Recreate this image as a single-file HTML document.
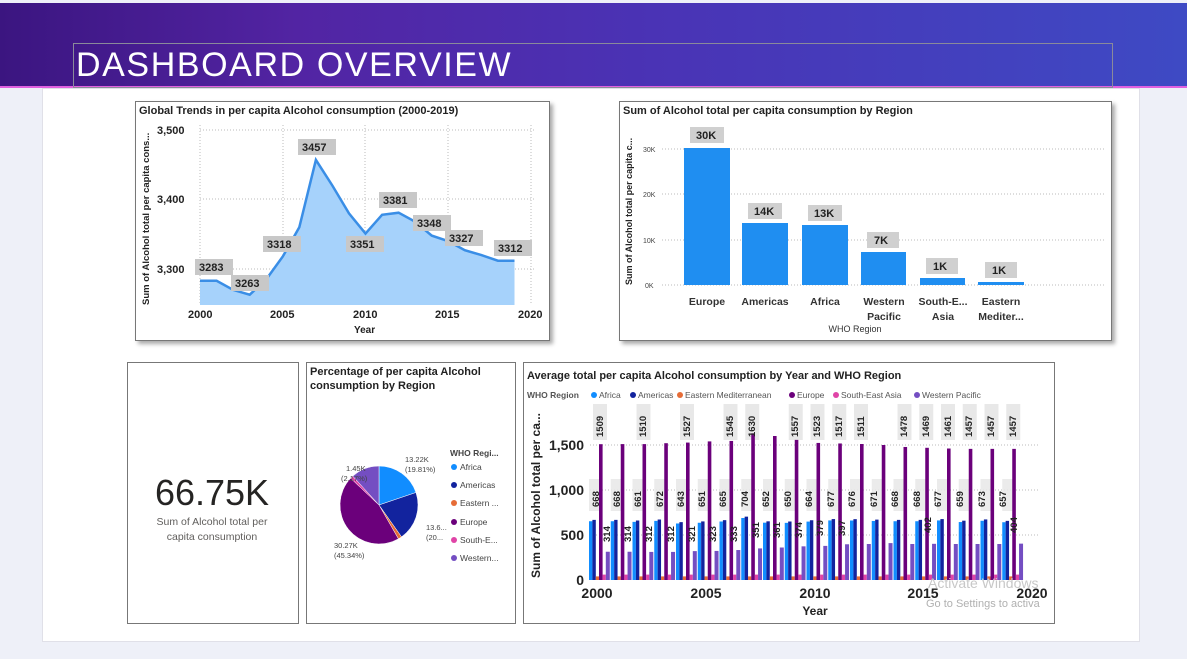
<!DOCTYPE html>
<html><head><meta charset="utf-8"><style>
body{margin:0;width:1187px;height:659px;overflow:hidden;background:#eef0f8;font-family:"Liberation Sans",sans-serif;position:relative}
.hdr{position:absolute;left:0;top:3px;width:1187px;height:83px;background:linear-gradient(90deg,#3b1580 0%,#5224a3 25%,#4a33b5 55%,#3e4ac4 100%);border-bottom:2px solid #e060e0}
.title{position:absolute;left:73px;top:40px;width:1036px;height:43px;border:1px solid #8a8a9a;color:#fff;font-size:34px;line-height:43px;padding-left:2px;letter-spacing:1.6px}
.canvas{position:absolute;left:42px;top:88px;width:1096px;height:552px;background:#fff;border:1px solid #e0e0e8}
.card{position:absolute;background:#fff;border:1px solid #777}
.sh{box-shadow:3px 3px 4px #aaa}
svg text{font-family:"Liberation Sans",sans-serif}
</style></head><body>
<div class="hdr"><div class="title">DASHBOARD OVERVIEW</div></div>
<div class="canvas"></div>

<div class="card sh" style="left:135px;top:101px;width:413px;height:238px"></div>
<div class="card sh" style="left:619px;top:101px;width:491px;height:238px"></div>
<div class="card" style="left:127px;top:362px;width:170px;height:260px"></div>
<div class="card" style="left:306px;top:362px;width:208px;height:260px"></div>
<div class="card" style="left:523px;top:362px;width:530px;height:260px"></div>

<svg width="1187" height="659" style="position:absolute;left:0;top:0">
<!-- Chart 1 -->
<text x="139" y="114" font-size="11" font-weight="bold" fill="#222">Global Trends in per capita Alcohol consumption (2000-2019)</text>
<g stroke="#bbb" stroke-dasharray="1,2"><line x1="200" x2="535" y1="130" y2="130"/><line x1="200" x2="535" y1="199" y2="199"/><line x1="200" x2="535" y1="269" y2="269"/>
<line x1="200" x2="200" y1="125" y2="305"/><line x1="283" x2="283" y1="125" y2="305"/><line x1="365" x2="365" y1="125" y2="305"/><line x1="448" x2="448" y1="125" y2="305"/><line x1="531" x2="531" y1="125" y2="305"/></g>
<path id="area" fill="#a6d2fb"/><path id="line" fill="none" stroke="#3a8ee6" stroke-width="2.5"/>
<g font-size="11" font-weight="bold" fill="#222"><text x="157" y="134">3,500</text><text x="157" y="203">3,400</text><text x="157" y="273">3,300</text>
<text x="188" y="318">2000</text><text x="270" y="318">2005</text><text x="353" y="318">2010</text><text x="435" y="318">2015</text><text x="518" y="318">2020</text>
<text x="354" y="333" font-size="10">Year</text></g>
<text transform="translate(149,305) rotate(-90)" font-size="9.5" font-weight="bold" fill="#222">Sum of Alcohol total per capita cons...</text>
<g font-size="11" font-weight="bold" fill="#222">
<rect x="298" y="139" width="38" height="16" fill="#c8c8c8"/><text x="302" y="151">3457</text>
<rect x="195" y="259" width="38" height="16" fill="#c8c8c8"/><text x="199" y="271">3283</text>
<rect x="231" y="275" width="38" height="16" fill="#c8c8c8"/><text x="235" y="287">3263</text>
<rect x="263" y="236" width="38" height="16" fill="#c8c8c8"/><text x="267" y="248">3318</text>
<rect x="346" y="236" width="38" height="16" fill="#c8c8c8"/><text x="350" y="248">3351</text>
<rect x="379" y="192" width="38" height="16" fill="#c8c8c8"/><text x="383" y="204">3381</text>
<rect x="413" y="215" width="38" height="16" fill="#c8c8c8"/><text x="417" y="227">3348</text>
<rect x="445" y="230" width="38" height="16" fill="#c8c8c8"/><text x="449" y="242">3327</text>
<rect x="494" y="240" width="38" height="16" fill="#c8c8c8"/><text x="498" y="252">3312</text></g>

<!-- Chart 2 -->
<text x="623" y="114" font-size="11" font-weight="bold" fill="#222">Sum of Alcohol total per capita consumption by Region</text>
<g stroke="#bbb" stroke-dasharray="1,2"><line x1="662" x2="1105" y1="149" y2="149"/><line x1="662" x2="1105" y1="194" y2="194"/><line x1="662" x2="1105" y1="240" y2="240"/><line x1="662" x2="1105" y1="285" y2="285"/></g>
<g font-size="7" fill="#444"><text x="643" y="152">30K</text><text x="643" y="197">20K</text><text x="643" y="243">10K</text><text x="645" y="288">0K</text></g>
<text transform="translate(632,285) rotate(-90)" font-size="9" font-weight="bold" fill="#222">Sum of Alcohol total per capita c...</text>
<g fill="#1f8ef1"><rect x="684" y="148" width="46" height="137"/><rect x="742" y="223" width="46" height="62"/><rect x="802" y="225" width="46" height="60"/><rect x="861" y="252" width="45" height="33"/><rect x="920" y="278" width="45" height="7"/><rect x="978" y="282" width="46" height="3"/></g>
<g font-size="11" font-weight="bold" fill="#222">
<rect x="690" y="127" width="34" height="16" fill="#d0d0d0"/><text x="696" y="139">30K</text>
<rect x="748" y="203" width="34" height="16" fill="#d0d0d0"/><text x="754" y="215">14K</text>
<rect x="808" y="205" width="34" height="16" fill="#d0d0d0"/><text x="814" y="217">13K</text>
<rect x="867" y="232" width="32" height="16" fill="#d0d0d0"/><text x="874" y="244">7K</text>
<rect x="926" y="258" width="32" height="16" fill="#d0d0d0"/><text x="933" y="270">1K</text>
<rect x="985" y="262" width="32" height="16" fill="#d0d0d0"/><text x="992" y="274">1K</text></g>
<g font-size="10.5" font-weight="bold" fill="#333" text-anchor="middle">
<text x="707" y="305">Europe</text><text x="765" y="305">Americas</text><text x="825" y="305">Africa</text><text x="884" y="305">Western</text><text x="884" y="320">Pacific</text><text x="943" y="305">South-E...</text><text x="943" y="320">Asia</text><text x="1001" y="305">Eastern</text><text x="1001" y="320">Mediter...</text>
<text x="855" y="332" font-size="9" font-weight="normal">WHO Region</text></g>

<!-- KPI -->
<text x="212" y="505" font-size="36" fill="#252423" text-anchor="middle">66.75K</text>
<text x="212" y="525" font-size="10.5" fill="#605e5c" text-anchor="middle">Sum of Alcohol total per</text>
<text x="212" y="540" font-size="10.5" fill="#605e5c" text-anchor="middle">capita consumption</text>

<!-- Pie -->
<text x="310" y="375" font-size="11" font-weight="bold" fill="#222">Percentage of per capita Alcohol</text>
<text x="310" y="389" font-size="11" font-weight="bold" fill="#222">consumption by Region</text>
<g id="pie"></g>
<g font-size="7.5" fill="#444"><text x="405" y="462">13.22K</text><text x="405" y="472">(19.81%)</text><text x="426" y="530">13.6...</text><text x="426" y="540">(20...</text>
<text x="334" y="548">30.27K</text><text x="334" y="558">(45.34%)</text><text x="346" y="471">1.45K</text><text x="341" y="481">(2.17%)</text></g>
<text x="450" y="456" font-size="8.5" font-weight="bold" fill="#444">WHO Regi...</text>
<g font-size="8.5" fill="#444"><circle cx="454" cy="467" r="3" fill="#118dff"/><text x="460" y="470">Africa</text>
<circle cx="454" cy="485" r="3" fill="#12239e"/><text x="460" y="488">Americas</text>
<circle cx="454" cy="503" r="3" fill="#e66c37"/><text x="460" y="506">Eastern ...</text>
<circle cx="454" cy="522" r="3" fill="#6b007b"/><text x="460" y="525">Europe</text>
<circle cx="454" cy="540" r="3" fill="#e044a7"/><text x="460" y="543">South-E...</text>
<circle cx="454" cy="558" r="3" fill="#744ec2"/><text x="460" y="561">Western...</text></g>

<!-- Chart 5 -->
<text x="527" y="379" font-size="11" font-weight="bold" fill="#222">Average total per capita Alcohol consumption by Year and WHO Region</text>
<g font-size="8.5" fill="#555"><text x="527" y="398" font-weight="bold">WHO Region</text>
<circle cx="594" cy="395" r="3" fill="#118dff"/><text x="599" y="398">Africa</text>
<circle cx="633" cy="395" r="3" fill="#12239e"/><text x="638" y="398">Americas</text>
<circle cx="680" cy="395" r="3" fill="#e66c37"/><text x="685" y="398">Eastern Mediterranean</text>
<circle cx="792" cy="395" r="3" fill="#6b007b"/><text x="797" y="398">Europe</text>
<circle cx="836" cy="395" r="3" fill="#e044a7"/><text x="841" y="398">South-East Asia</text>
<circle cx="917" cy="395" r="3" fill="#744ec2"/><text x="922" y="398">Western Pacific</text></g>
<g stroke="#bbb" stroke-dasharray="1,2"><line x1="590" x2="1040" y1="445" y2="445"/><line x1="590" x2="1040" y1="490" y2="490"/><line x1="590" x2="1040" y1="535" y2="535"/></g>
<g id="bars"></g>
<g font-size="14" font-weight="bold" fill="#222" text-anchor="end"><text x="584" y="450">1,500</text><text x="584" y="495">1,000</text><text x="584" y="540">500</text><text x="584" y="585">0</text></g>
<g font-size="14" font-weight="bold" fill="#222" text-anchor="middle"><text x="597" y="598">2000</text><text x="706" y="598">2005</text><text x="815" y="598">2010</text><text x="923" y="598">2015</text><text x="1032" y="598">2020</text><text x="815" y="615" font-size="12">Year</text></g>
<text transform="translate(540,578) rotate(-90)" font-size="12" font-weight="bold" fill="#222">Sum of Alcohol total per ca...</text>
<g font-size="9.5" font-weight="bold" fill="#222">
<g id="eu"><text transform="translate(603,437) rotate(-90)">1509</text><text transform="translate(646,437) rotate(-90)">1510</text><text transform="translate(690,437) rotate(-90)">1527</text><text transform="translate(733,437) rotate(-90)">1545</text><text transform="translate(755,437) rotate(-90)">1630</text><text transform="translate(798,437) rotate(-90)">1557</text><text transform="translate(820,437) rotate(-90)">1523</text><text transform="translate(842,437) rotate(-90)">1517</text><text transform="translate(864,437) rotate(-90)">1511</text><text transform="translate(907,437) rotate(-90)">1478</text><text transform="translate(929,437) rotate(-90)">1469</text><text transform="translate(951,437) rotate(-90)">1461</text><text transform="translate(972,437) rotate(-90)">1457</text><text transform="translate(994,437) rotate(-90)">1457</text><text transform="translate(1016,437) rotate(-90)">1457</text></g>
<text transform="translate(599,507) rotate(-90)">668</text><text transform="translate(620,507) rotate(-90)">668</text><text transform="translate(641,507) rotate(-90)">661</text><text transform="translate(663,507) rotate(-90)">672</text><text transform="translate(684,507) rotate(-90)">643</text><text transform="translate(705,507) rotate(-90)">651</text><text transform="translate(726,507) rotate(-90)">665</text><text transform="translate(748,507) rotate(-90)">704</text><text transform="translate(769,507) rotate(-90)">652</text><text transform="translate(791,507) rotate(-90)">650</text><text transform="translate(812,507) rotate(-90)">664</text><text transform="translate(834,507) rotate(-90)">677</text><text transform="translate(855,507) rotate(-90)">676</text><text transform="translate(877,507) rotate(-90)">671</text><text transform="translate(898,507) rotate(-90)">668</text><text transform="translate(920,507) rotate(-90)">668</text><text transform="translate(941,507) rotate(-90)">677</text><text transform="translate(963,507) rotate(-90)">659</text><text transform="translate(985,507) rotate(-90)">673</text><text transform="translate(1006,507) rotate(-90)">657</text>
<text transform="translate(610,542) rotate(-90)">314</text><text transform="translate(631,542) rotate(-90)">314</text><text transform="translate(652,542) rotate(-90)">312</text><text transform="translate(674,542) rotate(-90)">312</text><text transform="translate(695,542) rotate(-90)">321</text><text transform="translate(716,542) rotate(-90)">323</text><text transform="translate(737,542) rotate(-90)">333</text><text transform="translate(759,538) rotate(-90)">351</text><text transform="translate(780,538) rotate(-90)">361</text><text transform="translate(802,538) rotate(-90)">374</text><text transform="translate(823,536) rotate(-90)">379</text><text transform="translate(845,536) rotate(-90)">397</text><text transform="translate(931,533) rotate(-90)">402</text><text transform="translate(1017,533) rotate(-90)">404</text></g>
<text x="928" y="588" font-size="14" fill="#c8c8c8">Activate Windows</text>
<text x="926" y="607" font-size="11" fill="#b0b0b0">Go to Settings to activa</text>
</svg>
<script>
var d=[3283,3283,3270,3263,3285,3318,3360,3457,3420,3380,3351,3378,3381,3368,3348,3340,3327,3320,3312,3312];
var p=d.map(function(v,i){return (200+i*16.55).toFixed(1)+","+(269-(v-3300)*0.695).toFixed(1)});
document.getElementById("line").setAttribute("d","M"+p.join("L"));
document.getElementById("area").setAttribute("d","M200,305L"+p.join("L")+"L514.5,305Z");
var cx=379,cy=505,r=39,sl=[[19.81,"#118dff"],[20.4,"#12239e"],[1.5,"#e66c37"],[45.34,"#6b007b"],[1.2,"#e044a7"],[11.75,"#744ec2"]],a=-Math.PI/2,h="";
sl.forEach(function(s){var b=a+s[0]/100*2*Math.PI;var x1=cx+r*Math.cos(a),y1=cy+r*Math.sin(a),x2=cx+r*Math.cos(b),y2=cy+r*Math.sin(b);
h+='<path d="M'+cx+','+cy+'L'+x1+','+y1+'A'+r+','+r+' 0 '+((b-a)>Math.PI?1:0)+' 1 '+x2+','+y2+'Z" fill="'+s[1]+'" stroke="#fff" stroke-width="0.5"/>';a=b;});
document.getElementById("pie").innerHTML=h;
var eu=[1509,1510,1510,1520,1527,1540,1545,1630,1600,1557,1523,1517,1511,1500,1478,1469,1461,1457,1457,1457];
var am=[668,668,661,672,643,651,665,704,652,650,664,677,676,671,668,668,677,659,673,657];
var wp=[314,314,312,312,321,323,333,351,361,374,379,397,400,410,400,402,400,400,400,404];
var cols=["#118dff","#12239e","#e66c37","#6b007b","#e044a7","#744ec2"],g="";
var ws=[3.4,3.4,3.2,3.6,3.2,4];
for(var i=0;i<20;i++){var x=597+i*21.75-8;var vals=[am[i]-15,am[i],40,eu[i],60,wp[i]];var off=0;
vals.forEach(function(v,k){var hh=v*0.09;g+='<rect x="'+(x+off)+'" y="'+(580-hh)+'" width="'+ws[k]+'" height="'+hh+'" fill="'+cols[k]+'"/>';off+=ws[k];});}
var lb="";[0,2,4,6,7,9,10,11,12,14,15,16,17,18,19].forEach(function(i){lb+='<rect x="'+(597+i*21.75-4)+'" y="404" width="14" height="36" fill="#e8e8e8"/>';});
for(var i=0;i<20;i++){lb+='<rect x="'+(597+i*21.75-8)+'" y="479" width="12" height="32" fill="#e8e8e8" opacity="0.85"/>';}
document.getElementById("bars").innerHTML=lb+g;
</script>
</body></html>
